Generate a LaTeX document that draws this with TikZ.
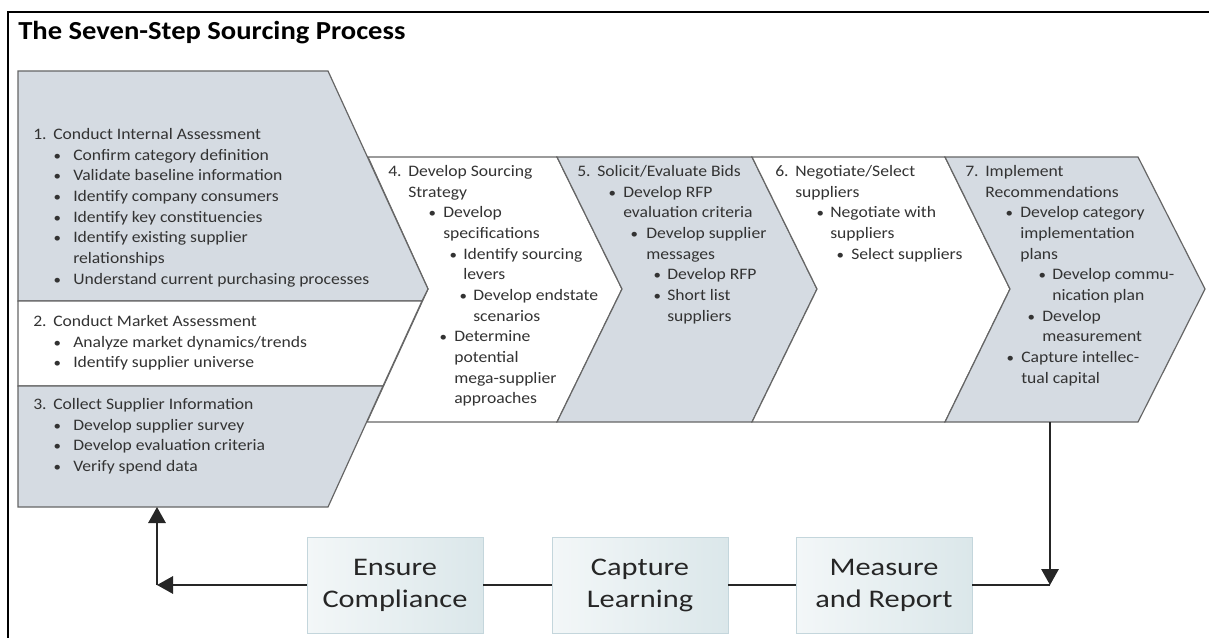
\documentclass[tikz,border=0pt]{standalone}
\usepackage{fontspec}
\setmainfont{Carlito}[FakeStretch=1.1]
\newfontfamily\boxfont{Carlito}[FakeStretch=1.2]
\usepackage[dvipsnames]{xcolor}
\usepackage{tikz}
\usetikzlibrary{arrows.meta}

\definecolor{stepgray}{RGB}{213,219,226}
\definecolor{boxl}{RGB}{243,247,248}
\definecolor{boxr}{RGB}{219,231,234}
\definecolor{boxline}{RGB}{196,214,220}

\newlength\pxu
\setlength\pxu{0.75pt}
\newcommand{\shead}[2]{\makebox[20\pxu][l]{#1}#2}
\newcommand{\sbul}[3][11]{\hspace*{#2\pxu}\makebox[0pt]{\scalebox{0.85}{\textbullet}}\hspace*{#1\pxu}#3}
\newcommand{\scont}[2]{\hspace*{#1\pxu}#2}

\begin{document}
\begin{tikzpicture}[x=0.75pt, y=-0.75pt,
        chev/.style={draw=black!60, line width=0.9pt, line join=miter},
        steptext/.style={anchor=north west, inner sep=0pt, align=left, text=black!80, font=\fontsize{12}{15.5}\selectfont},
        loopbox/.style={draw=boxline, left color=boxl, right color=boxr, minimum width=132pt, minimum height=72pt, inner sep=0pt, align=center, text=black!85, font=\boxfont\fontsize{19}{24}\selectfont},
        link/.style={line width=1.5pt, draw=black!85},
        flow/.style={link, -{Triangle[length=12pt,width=13pt]}}]
            \useasboundingbox (0,0) rectangle (1209,638);
            \draw[line width=1.5pt] (8,638) -- (8,12) -- (1209,12);
            \node[anchor=base west, inner sep=0pt, font=\bfseries\fontsize{19.5}{22}\selectfont] (title) at (18,40) {The Seven-Step Sourcing Process};

            \draw[chev, fill=white] (368,157) -- (557,157) -- (622,289) -- (557,422) -- (367,422) -- (428,289) -- cycle;
            \draw[chev, fill=stepgray] (557,157) -- (752,157) -- (817,289) -- (752,422) -- (557,422) -- (622,289) -- cycle;
            \draw[chev, fill=white] (752,157) -- (945,157) -- (1010,289) -- (945,422) -- (752,422) -- (817,289) -- cycle;
            \draw[chev, fill=stepgray] (945,157) -- (1138,157) -- (1205,289) -- (1138,422) -- (945,422) -- (1010,289) -- cycle;

            \draw[chev, fill=stepgray] (18,71) -- (328,71) -- (428,289) -- (422,301) -- (18,301) -- cycle;
            \draw[chev, fill=white] (18,301) -- (422,301) -- (383,386) -- (18,386) -- cycle;
            \draw[chev, fill=stepgray] (18,386) -- (383,386) -- (328,507) -- (18,507) -- cycle;

            \node[steptext] (t1) at (33,128) {\shead{1.}{Conduct Internal Assessment}\\
                \sbul[16]{24}{Confirm category definition}\\
                \sbul[16]{24}{Validate baseline information}\\
                \sbul[16]{24}{Identify company consumers}\\
                \sbul[16]{24}{Identify key constituencies}\\
                \sbul[16]{24}{Identify existing supplier}\\
                \scont{40}{relationships}\\
                \sbul[16]{24}{Understand current purchasing processes}};
            \node[steptext] (t2) at (33,315) {\shead{2.}{Conduct Market Assessment}\\
                \sbul[16]{24}{Analyze market dynamics/trends}\\
                \sbul[16]{24}{Identify supplier universe}};
            \node[steptext] (t3) at (33,398) {\shead{3.}{Collect Supplier Information}\\
                \sbul[16]{24}{Develop supplier survey}\\
                \sbul[16]{24}{Develop evaluation criteria}\\
                \sbul[16]{24}{Verify spend data}};
            \node[steptext] (t4) at (388,165) {\shead{4.}{Develop Sourcing}\\
                \scont{20}{Strategy}\\
                \sbul{44}{Develop}\\
                \scont{55}{specifications}\\
                \sbul[10]{65}{Identify sourcing}\\
                \scont{75}{levers}\\
                \sbul[10]{75}{Develop endstate}\\
                \scont{85}{scenarios}\\
                \sbul{55}{Determine}\\
                \scont{66}{potential}\\
                \scont{66}{mega-supplier}\\
                \scont{66}{approaches}};
            \node[steptext] (t5) at (577,165) {\shead{5.}{Solicit/Evaluate Bids}\\
                \sbul{35}{Develop RFP}\\
                \scont{46}{evaluation criteria}\\
                \sbul[12]{57}{Develop supplier}\\
                \scont{69}{messages}\\
                \sbul[10]{80}{Develop RFP}\\
                \sbul[10]{80}{Short list}\\
                \scont{90}{suppliers}};
            \node[steptext] (t6) at (775,165) {\shead{6.}{Negotiate/Select}\\
                \scont{20}{suppliers}\\
                \sbul[10]{45}{Negotiate with}\\
                \scont{55}{suppliers}\\
                \sbul{65}{Select suppliers}};
            \node[steptext] (t7) at (965,165) {\shead{7.}{Implement}\\
                \scont{20}{Recommendations}\\
                \sbul{44}{Develop category}\\
                \scont{55}{implementation}\\
                \scont{55}{plans}\\
                \sbul[10]{77}{Develop commu-}\\
                \scont{87}{nication plan}\\
                \sbul[11]{66}{Develop}\\
                \scont{77}{measurement}\\
                \sbul{45}{Capture intellec-}\\
                \scont{56}{tual capital}};

            \node[loopbox] (ensure) at (395,585) {Ensure\\Compliance};
            \node[loopbox] (capture) at (640,585) {Capture\\Learning};
            \node[loopbox] (measure) at (884,585) {Measure\\and Report};

            \coordinate (c7) at (1050,422);
            \coordinate (rc) at (1050,585);
            \coordinate (lc) at (157,585);
            \coordinate (s3) at (157,507);

            \draw[flow] (c7) -- (rc);
            \draw[link] (rc) -- (measure);
            \draw[link] (measure) -- (capture);
            \draw[link] (capture) -- (ensure);
            \draw[flow] (ensure) -- (lc);
            \draw[flow] (lc) -- (s3);
\end{tikzpicture}
\end{document}
